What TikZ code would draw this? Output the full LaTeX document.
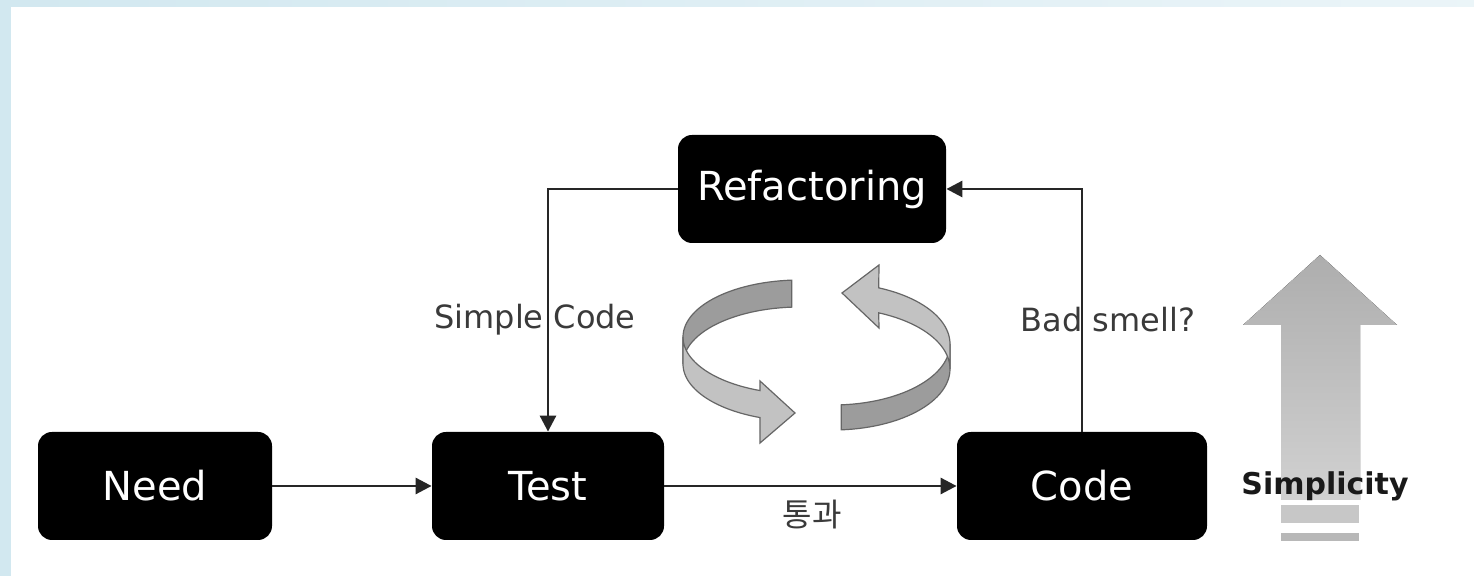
\documentclass[tikz,border=0pt]{standalone}
\usepackage{fontspec}
\setmainfont{DejaVu Sans}
\newfontfamily\krfont{Noto Sans CJK KR}
\usetikzlibrary{arrows.meta}
\definecolor{bgblue}{HTML}{D2E8F0}
\definecolor{facedark}{HTML}{9C9C9C}
\definecolor{facelight}{HTML}{C2C2C2}
\definecolor{labelgray}{HTML}{3A3A3A}

\begin{document}
\begin{tikzpicture}[x=0.5pt, y=-0.5pt,
    box/.style={fill=black, rounded corners=7pt, text=white, inner sep=0pt,
                minimum height=54pt, font=\fontsize{20}{24}\selectfont},
    flow/.style={draw=black!85, line width=1.4pt, -{Triangle[length=8pt,width=8pt]}},
    lbl/.style={text=labelgray, font=\fontsize{16}{19}\selectfont},
    ring/.style={draw=black!60, line width=0.6pt}]
  % page and blue frame
  \useasboundingbox (0,0) rectangle (1474,576);
  \fill[left color=bgblue, right color=bgblue!45] (0,0) rectangle (1474,576);
  \fill[white] (11,7) rectangle (1474,576);

  % the four steps
  \node[box, minimum width=117pt] (need)  at (155,486)  {Need};
  \node[box, minimum width=116pt] (test)  at (548,486)  {Test};
  \node[box, minimum width=125pt] (code)  at (1082,486) {Code};
  \node[box, minimum width=134pt] (refac) at (812,189)  {Refactoring};

  % labels
  \node[lbl] (simple) at (535,320)  {Simple Code};
  \node[lbl] (smell)  at (1108,320) {Bad smell?};
  \node[lbl, font=\krfont\fontsize{16}{19}\selectfont] (pass) at (812,515) {통과};

  % connectors
  \draw[flow] (need) -- (test);
  \draw[flow] (test) -- (code);
  \draw[flow] (refac.west) -| (test.north);
  \draw[flow] (code.north) |- (refac.east);

  % cycle arrows, left one (ribbon 27 high)
  \filldraw[ring, fill=facedark]
    plot[domain=266:180, samples=30] ({800+117*cos(\x)},{337+57*sin(\x)})
    -- plot[domain=180:266, samples=30] ({800+117*cos(\x)},{364+57*sin(\x)}) -- cycle;
  \filldraw[ring, fill=facelight]
    plot[domain=180:110, samples=30] ({800+117*cos(\x)},{337+57*sin(\x)})
    -- (760,381) -- (795,413) -- (760,443)
    -- plot[domain=110:180, samples=30] ({800+117*cos(\x)},{364+57*sin(\x)}) -- cycle;
  % right one (ribbon 25 high)
  \filldraw[ring, fill=facedark]
    plot[domain=86:0, samples=30] ({833+117*cos(\x)},{344+61*sin(\x)})
    -- plot[domain=0:86, samples=30] ({833+117*cos(\x)},{369+61*sin(\x)}) -- cycle;
  \filldraw[ring, fill=facelight]
    plot[domain=0:-67, samples=30] ({833+117*cos(\x)},{369+61*sin(\x)})
    -- (879,328) -- (842,293) -- (879,265)
    -- plot[domain=-67:0, samples=30] ({833+117*cos(\x)},{344+61*sin(\x)}) -- cycle;

  % simplicity arrow
  \fill[top color=black!32, bottom color=black!18]
    (1320,255) -- (1397,325) -- (1360,325) -- (1360,500)
    -- (1281,500) -- (1281,325) -- (1243,325) -- cycle;
  \fill[black!22] (1281,505) rectangle (1359,523);
  \fill[black!28] (1281,533) rectangle (1359,541);
  \node[font=\bfseries\fontsize{15}{18}\selectfont, text=black!90] (simplicity) at (1325,486) {Simplicity};
\end{tikzpicture}
\end{document}
